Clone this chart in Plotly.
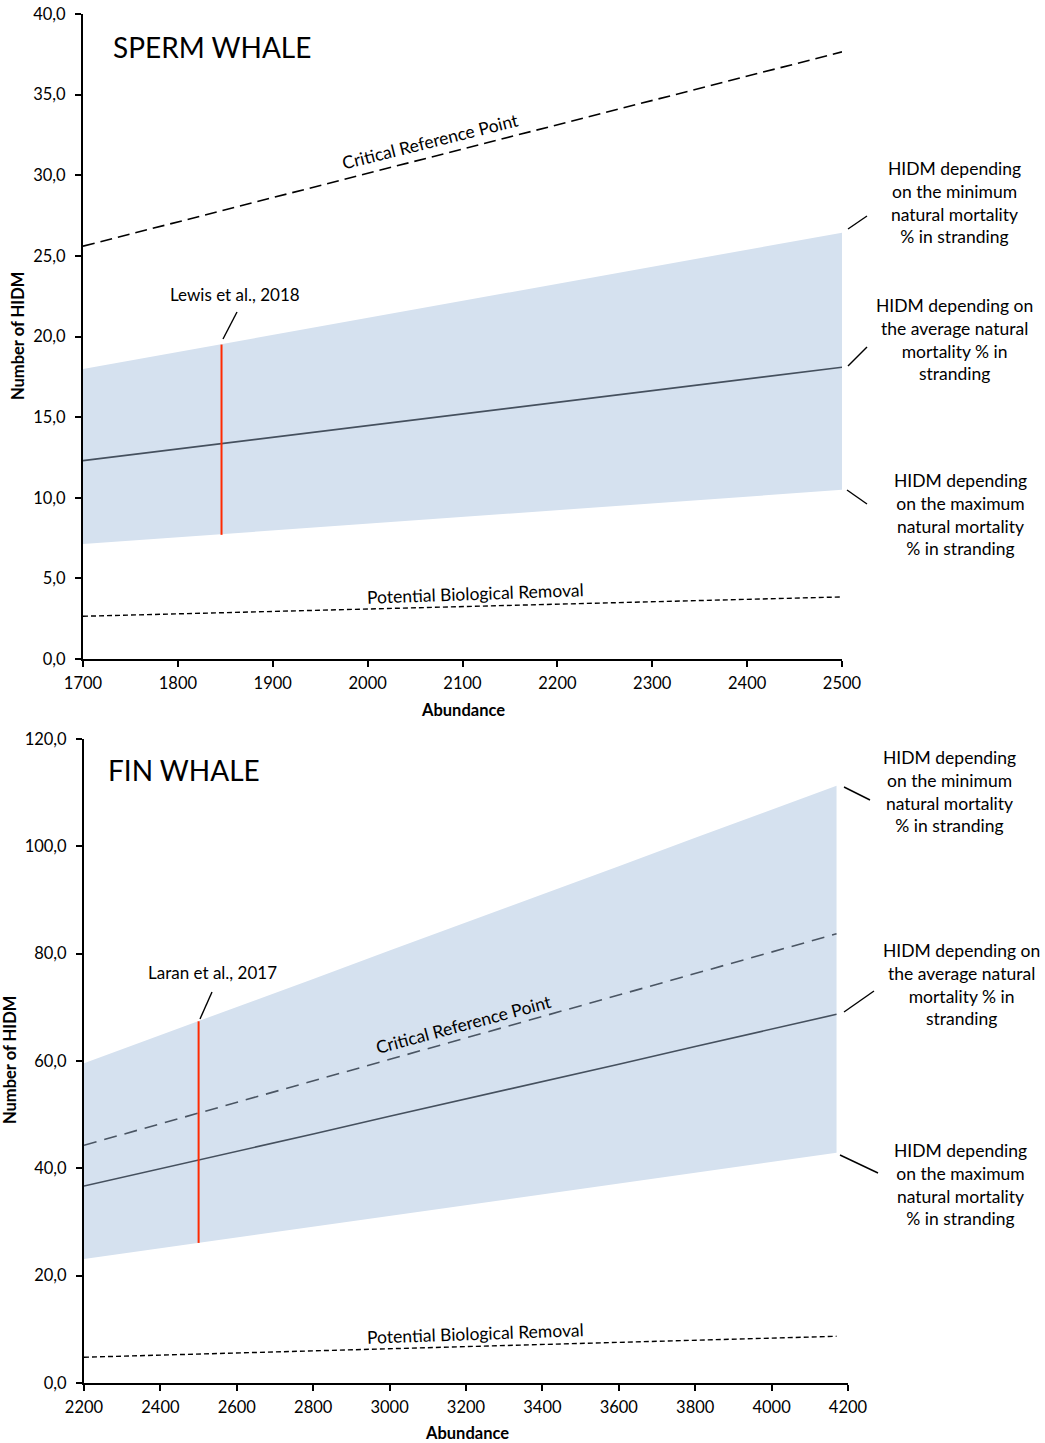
import plotly.graph_objects as go

W, H = 1045, 1443
FONT = "Lato"

# ---------------- data: sperm whale ----------------
sw_abund = [1700, 1800, 1900, 2000, 2100, 2200, 2300, 2400, 2500]
sw_upper = [17.98, 19.04, 20.10, 21.15, 22.21, 23.27, 24.33, 25.38, 26.44]
sw_mean = [12.30, 13.02, 13.75, 14.47, 15.19, 15.92, 16.64, 17.36, 18.09]
sw_lower = [7.13, 7.55, 7.97, 8.39, 8.81, 9.23, 9.65, 10.07, 10.49]
sw_crp = [25.60, 27.11, 28.61, 30.12, 31.62, 33.13, 34.64, 36.14, 37.65]
sw_pbr = [2.65, 2.80, 2.95, 3.10, 3.25, 3.40, 3.55, 3.70, 3.85]
sw_ref_x = [1846, 1846]
sw_ref_y = [7.7, 19.5]

# ---------------- data: fin whale ----------------
fw_abund = [2200, 2400, 2600, 2800, 3000, 3200, 3400, 3600, 3800, 4000, 4170]
fw_upper = [59.6, 64.8, 70.1, 75.3, 80.6, 85.8, 91.1, 96.3, 101.6, 106.8, 111.3]
fw_mean = [36.7, 39.9, 43.2, 46.4, 49.7, 52.9, 56.2, 59.4, 62.7, 65.9, 68.7]
fw_lower = [23.1, 25.1, 27.1, 29.1, 31.1, 33.1, 35.1, 37.2, 39.2, 41.2, 42.9]
fw_crp = [44.3, 48.3, 52.3, 56.3, 60.3, 64.3, 68.3, 72.3, 76.3, 80.3, 83.7]
fw_pbr = [4.8, 5.2, 5.6, 6.0, 6.4, 6.8, 7.2, 7.6, 8.0, 8.4, 8.7]
fw_ref_x = [2500, 2500]
fw_ref_y = [26.1, 67.4]

sw_yticks = [0, 5, 10, 15, 20, 25, 30, 35, 40]
sw_xticks = [1700, 1800, 1900, 2000, 2100, 2200, 2300, 2400, 2500]
fw_yticks = [0, 20, 40, 60, 80, 100, 120]
fw_xticks = [2200, 2400, 2600, 2800, 3000, 3200, 3400, 3600, 3800, 4000, 4200]

FILL = "#d5e1ef"
MEAN = "#45505e"
RED = "#ff2a00"


def px(x):
    return x / W


def py(y):
    return 1 - y / H


fig = go.Figure()


def add_panel(xa, ya, abund, upper, mean, lower, crp, pbr, refx, refy, crp_color, crp_dash):
    fig.add_trace(go.Scatter(x=abund, y=lower, mode="lines", line=dict(width=0, color=FILL),
                             xaxis=xa, yaxis=ya, showlegend=False, hoverinfo="skip"))
    fig.add_trace(go.Scatter(x=abund, y=upper, mode="lines", line=dict(width=0, color=FILL),
                             fill="tonexty", fillcolor=FILL,
                             xaxis=xa, yaxis=ya, showlegend=False, hoverinfo="skip"))
    fig.add_trace(go.Scatter(x=abund, y=mean, mode="lines", line=dict(width=1.6, color=MEAN),
                             xaxis=xa, yaxis=ya, showlegend=False))
    fig.add_trace(go.Scatter(x=abund, y=crp, mode="lines",
                             line=dict(width=1.6, color=crp_color, dash=crp_dash),
                             xaxis=xa, yaxis=ya, showlegend=False))
    fig.add_trace(go.Scatter(x=abund, y=pbr, mode="lines",
                             line=dict(width=1.4, color="black", dash="5px,3px"),
                             xaxis=xa, yaxis=ya, showlegend=False))
    fig.add_trace(go.Scatter(x=refx, y=refy, mode="lines", line=dict(width=2, color=RED),
                             xaxis=xa, yaxis=ya, showlegend=False))


add_panel("x", "y", sw_abund, sw_upper, sw_mean, sw_lower, sw_crp, sw_pbr,
          sw_ref_x, sw_ref_y, "black", "12px,6px")
add_panel("x2", "y2", fw_abund, fw_upper, fw_mean, fw_lower, fw_crp, fw_pbr,
          fw_ref_x, fw_ref_y, "#4a5563", "13px,8px")

axis_common = dict(showline=True, linecolor="black", linewidth=2, ticks="outside",
                   tickcolor="black", tickwidth=1.5, ticklen=6, showgrid=False,
                   zeroline=False, layer="below traces", automargin=False,
                   tickfont=dict(family=FONT, size=16.5, color="black"))

fig.update_layout(
    width=W, height=H,
    margin=dict(l=0, r=0, t=0, b=0),
    paper_bgcolor="white", plot_bgcolor="white",
    separators=",.",
    font=dict(family=FONT, color="black"),
    xaxis=dict(domain=[px(83), px(842)], range=[1700, 2500], tickvals=sw_xticks,
               anchor="y", tickformat="d", ticklabelstandoff=2, **axis_common),
    yaxis=dict(domain=[py(659), py(14)], range=[0, 40], tickvals=sw_yticks,
               anchor="x", tickformat=".1f", ticklabelstandoff=6, **axis_common),
    xaxis2=dict(domain=[px(84), px(848)], range=[2200, 4200], tickvals=fw_xticks,
                anchor="y2", tickformat="d", ticklabelstandoff=2, **axis_common),
    yaxis2=dict(domain=[py(1383), py(739)], range=[0, 120], tickvals=fw_yticks,
                anchor="x2", tickformat=".1f", ticklabelstandoff=6, **axis_common),
)

annots = []


def text(x, y, s, size=17.5, angle=0, xanchor="center"):
    annots.append(dict(x=px(x), y=py(y), xref="paper", yref="paper", text=s, showarrow=False,
                       xanchor=xanchor, yanchor="middle", align="center", textangle=angle,
                       font=dict(family=FONT, size=size, color="black")))


def leader(x0, y0, x1, y1):
    fig.add_shape(type="line", xref="paper", yref="paper", x0=px(x0), y0=py(y0),
                  x1=px(x1), y1=py(y1), line=dict(color="black", width=1.4))


# axis titles
text(18, 336, "<b>Number of HIDM</b>", size=16.5, angle=-90)
text(463, 710, "<b>Abundance</b>", size=16.5)
text(10, 1060, "<b>Number of HIDM</b>", size=16.5, angle=-90)
text(467, 1433, "<b>Abundance</b>", size=16.5)

# titles
text(111, 47, "SPERM WHALE", size=28, xanchor="left")
text(106, 770, "FIN WHALE", size=28, xanchor="left")

# sperm whale labels
text(235, 294, "Lewis et al., 2018", size=17)
leader(223, 339, 237, 312)
text(430, 142, "Critical Reference Point", size=17.5, angle=-14)
text(475, 593, "Potential Biological Removal", size=17.5, angle=-2)

text(954, 203, "HIDM depending<br>on the minimum<br>natural mortality<br>% in stranding")
leader(848, 229, 867, 216)
text(954, 340, "HIDM depending on<br>the average natural<br>mortality % in<br>stranding")
leader(848, 366, 867, 347)
text(960, 514, "HIDM depending<br>on the maximum<br>natural mortality<br>% in stranding")
leader(847, 490, 867, 504)

# fin whale labels
text(212, 973, "Laran et al., 2017", size=17)
leader(200, 1019, 212, 992)
text(463, 1024, "Critical Reference Point", size=17.5, angle=-15)
text(475, 1333, "Potential Biological Removal", size=17.5, angle=-2)

text(949, 791, "HIDM depending<br>on the minimum<br>natural mortality<br>% in stranding")
leader(844, 787, 870, 800)
text(961, 984, "HIDM depending on<br>the average natural<br>mortality % in<br>stranding")
leader(844, 1012, 874, 991)
text(960, 1184, "HIDM depending<br>on the maximum<br>natural mortality<br>% in stranding")
leader(840, 1155, 878, 1173)

fig.update_layout(annotations=annots)

fig.write_html("out.html", config={"displayModeBar": False},
               post_script="document.body.style.margin='0';document.body.style.overflow='hidden';")
